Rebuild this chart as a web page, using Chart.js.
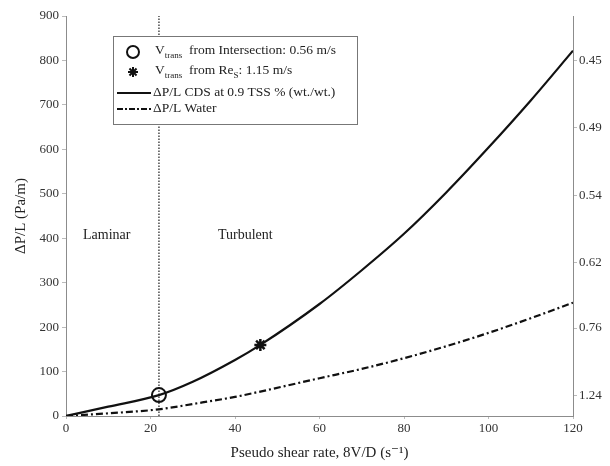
<!DOCTYPE html>
<html>
<head>
<meta charset="utf-8">
<script src="https://cdn.jsdelivr.net/npm/chart.js@4.4.0/dist/chart.umd.min.js"></script>
<style>
  html, body { margin: 0; padding: 0; background: #fff; }
  #wrap { width: 610px; height: 466px; }
</style>
</head>
<body>
<div id="wrap"><canvas id="dpChart"></canvas></div>
<script>
// pseudo shear rate 8V/D (1/s)
const shearRate = [0, 10, 22, 30, 40, 46, 60, 70, 80, 90, 100, 110, 120];
// pressure gradient (Pa/m)
const cdsPressure = [0, 21, 47, 77, 126, 160, 252, 328, 410, 503, 604, 710, 822];
const waterPressure = [0, 6, 15, 27, 43, 55, 85, 106, 130, 157, 187, 220, 255];

// transition points
const transIntersection = { x: 22, y: 47 };
const transReynolds = { x: 46, y: 160 };

// left axis ticks
const leftTicks = [0, 100, 200, 300, 400, 500, 600, 700, 800, 900];
const xTicks = [0, 20, 40, 60, 80, 100, 120];
// right axis: tick positions (in Pa/m) and their labels
const rightTickValues = [47, 198, 346, 497, 650, 799];
const rightTickLabels = ["1.24", "0.76", "0.62", "0.54", "0.49", "0.45"];

const serif = "'Liberation Serif', 'DejaVu Serif', serif";
const axisGray = "#8c8c8c";
const textGray = "#333";

const pts = (ys) => shearRate.map((x, i) => ({ x: x, y: ys[i] }));

// custom legend box inside the plot + region labels
const annotations = {
  id: "annotations",
  afterDatasetsDraw(chart) {
    const ctx = chart.ctx;
    ctx.save();
    // region labels
    ctx.fillStyle = "#222";
    ctx.font = "14px " + serif;
    ctx.textBaseline = "middle";
    ctx.fillText("Laminar", 83, 235);
    ctx.fillText("Turbulent", 218, 235);

    // legend box
    const bx = 113, by = 36, bw = 244, bh = 88;
    ctx.fillStyle = "#fff";
    ctx.fillRect(bx, by, bw, bh);
    ctx.strokeStyle = "#777";
    ctx.lineWidth = 1;
    ctx.strokeRect(bx + 0.5, by + 0.5, bw, bh);

    ctx.fillStyle = "#222";
    ctx.strokeStyle = "#111";
    const main = "13.5px " + serif, sub = "9px " + serif;
    const seg = (parts, x, y) => {
      parts.forEach(p => {
        ctx.font = p.s ? sub : main;
        ctx.fillText(p.t, x, p.s ? y + 6 : y);
        x += ctx.measureText(p.t).width;
      });
    };
    // row 1: circle
    ctx.lineWidth = 2;
    ctx.beginPath();
    ctx.arc(133, 52, 6, 0, Math.PI * 2);
    ctx.stroke();
    seg([{ t: "V" }, { t: "trans", s: true }, { t: "  from Intersection: 0.56 m/s" }], 155, 50);
    // row 2: star
    ctx.lineWidth = 2;
    ctx.beginPath();
    for (let a = 0; a < 4; a++) {
      const ang = a * Math.PI / 4;
      ctx.moveTo(133 - 5 * Math.cos(ang), 72 - 5 * Math.sin(ang));
      ctx.lineTo(133 + 5 * Math.cos(ang), 72 + 5 * Math.sin(ang));
    }
    ctx.stroke();
    seg([{ t: "V" }, { t: "trans", s: true }, { t: "  from Re" }, { t: "S", s: true }, { t: ": 1.15 m/s" }], 155, 70);
    // row 3: solid line
    ctx.lineWidth = 2;
    ctx.setLineDash([]);
    ctx.beginPath();
    ctx.moveTo(117, 93); ctx.lineTo(151, 93);
    ctx.stroke();
    seg([{ t: "ΔP/L CDS at 0.9 TSS % (wt./wt.)" }], 153, 92);
    // row 4: dash-dot line
    ctx.setLineDash([6, 2, 2, 2]);
    ctx.beginPath();
    ctx.moveTo(117, 109); ctx.lineTo(151, 109);
    ctx.stroke();
    ctx.setLineDash([]);
    seg([{ t: "ΔP/L Water" }], 153, 108);
    ctx.restore();
  }
};

new Chart(document.getElementById("dpChart").getContext("2d"), {
  type: "scatter",
  data: {
    datasets: [
      {
        label: "transition",
        data: [{ x: transIntersection.x, y: 0 }, { x: transIntersection.x, y: 900 }],
        showLine: true,
        borderColor: "#555",
        borderWidth: 1.6,
        borderDash: [1.5, 1.5],
        pointRadius: 0,
        order: 5,
      },
      {
        label: "ΔP/L CDS at 0.9 TSS % (wt./wt.)",
        data: pts(cdsPressure),
        showLine: true,
        borderColor: "#111",
        borderWidth: 2.2,
        cubicInterpolationMode: "monotone",
        pointRadius: 0,
        order: 2,
      },
      {
        label: "ΔP/L Water",
        data: pts(waterPressure),
        showLine: true,
        borderColor: "#111",
        borderWidth: 2.2,
        borderDash: [7, 3, 2, 3],
        cubicInterpolationMode: "monotone",
        pointRadius: 0,
        order: 3,
      },
      {
        label: "Vtrans from Intersection",
        data: [transIntersection],
        pointStyle: "circle",
        pointRadius: 7,
        pointBorderWidth: 2,
        pointBackgroundColor: "rgba(0,0,0,0)",
        pointBorderColor: "#111",
        order: 1,
      },
      {
        label: "Vtrans from ReS",
        data: [transReynolds],
        pointStyle: "star",
        pointRadius: 6,
        pointBorderWidth: 2.5,
        pointBorderColor: "#111",
        order: 1,
      },
    ],
  },
  options: {
    responsive: true,
    maintainAspectRatio: false,
    animation: false,
    layout: { padding: { top: 16, left: 0, right: 0, bottom: 0 } },
    plugins: {
      legend: { display: false },
      tooltip: { enabled: false },
    },
    scales: {
      x: {
        type: "linear",
        min: 0,
        max: 120,
        afterBuildTicks: (s) => { s.ticks = xTicks.map(v => ({ value: v })); },
        afterFit: (s) => { s.height = 50; },
        grid: { drawOnChartArea: false, drawTicks: true, tickLength: 3, color: "#bbb" },
        border: { color: axisGray, width: 1 },
        ticks: { color: textGray, font: { family: serif, size: 13 }, padding: 2, maxRotation: 0 },
        title: {
          display: true,
          text: "Pseudo shear rate, 8V/D (s⁻¹)",
          color: "#222",
          font: { family: serif, size: 15 },
          padding: { top: 0, bottom: 4 },
        },
      },
      y: {
        type: "linear",
        position: "left",
        min: 0,
        max: 900,
        afterBuildTicks: (s) => { s.ticks = leftTicks.map(v => ({ value: v })); },
        afterFit: (s) => { s.width = 66; },
        grid: { drawOnChartArea: false, tickLength: 4, color: "#bbb" },
        border: { color: axisGray, width: 1 },
        ticks: { color: textGray, font: { family: serif, size: 13 }, padding: 3 },
        title: {
          display: true,
          text: "ΔP/L (Pa/m)",
          color: "#222",
          font: { family: serif, size: 15 },
          padding: { top: 12, bottom: 2 },
        },
      },
      y2: {
        type: "linear",
        position: "right",
        min: 0,
        max: 900,
        afterBuildTicks: (s) => { s.ticks = rightTickValues.map(v => ({ value: v })); },
        afterFit: (s) => { s.width = 37; },
        grid: { drawOnChartArea: false, tickLength: 4, color: "#bbb" },
        border: { color: axisGray, width: 1 },
        ticks: {
          color: textGray,
          font: { family: serif, size: 13 },
          padding: 2,
          callback: (v) => {
            const i = rightTickValues.indexOf(v);
            return i >= 0 ? rightTickLabels[i] : "";
          },
        },
      },
    },
  },
  plugins: [annotations],
});
</script>
</body>
</html>
